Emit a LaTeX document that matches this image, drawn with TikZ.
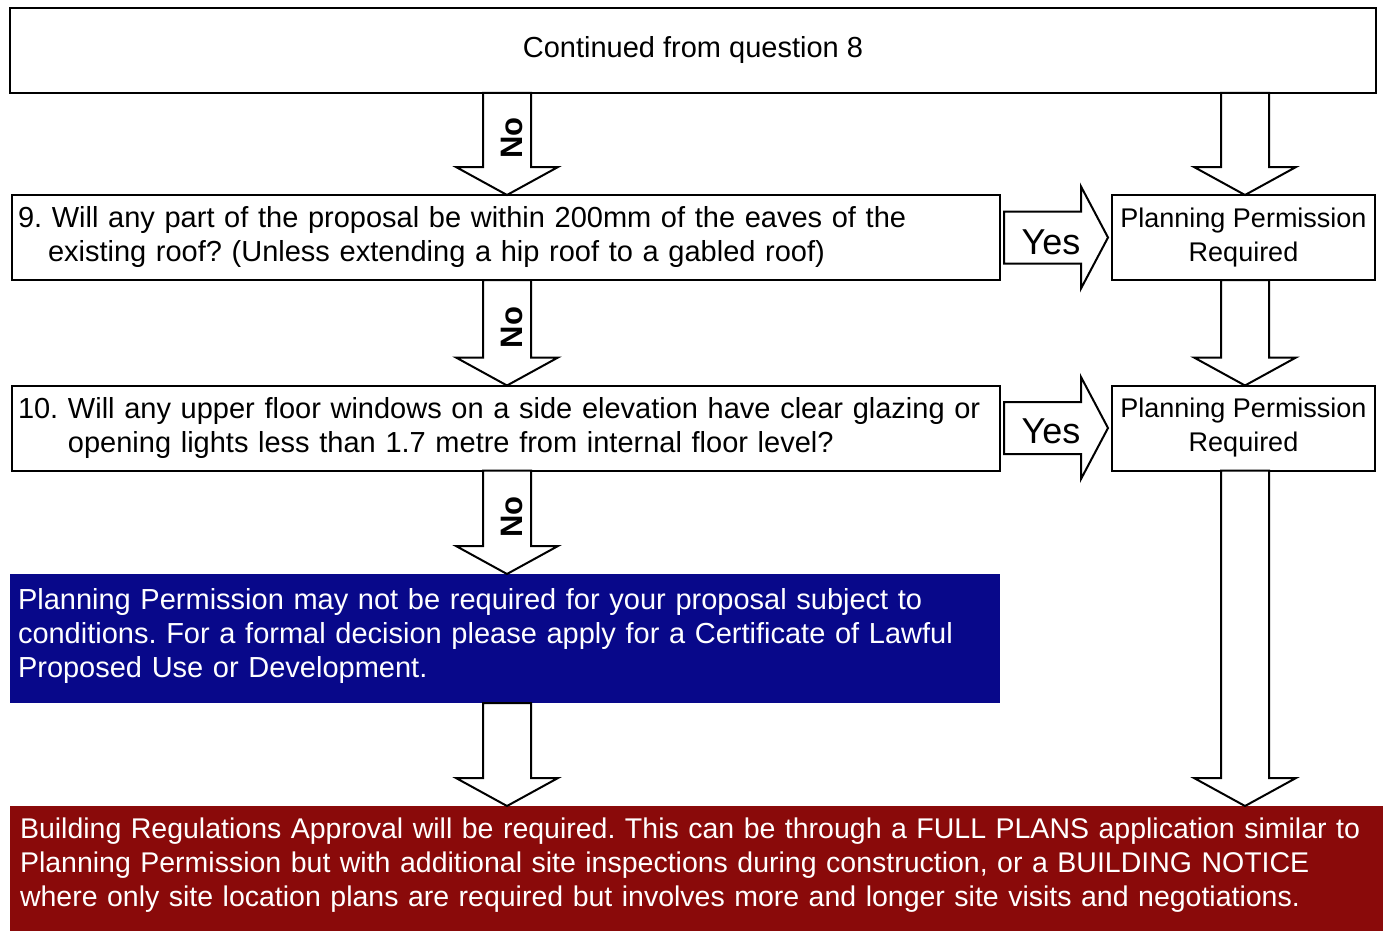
\documentclass[tikz,border=0pt]{standalone}
\usepackage{fontspec}
\setmainfont{Liberation Sans}
\usetikzlibrary{calc}
\frenchspacing

\definecolor{navybox}{RGB}{8,8,138}
\definecolor{maroonbox}{RGB}{138,10,10}

% fat block arrow pointing down, from node #1 to node #2 on column #3
\newcommand{\downblock}[3]{%
  \draw[blockarrow] ($(#1.south -| #3)+(-24,0)$) -- ($(#2.north -| #3)+(-24,-28)$)
    -- ($(#2.north -| #3)+(-51,-28)$) -- (#2.north -| #3)
    -- ($(#2.north -| #3)+(51,-28)$) -- ($(#2.north -| #3)+(24,-28)$)
    -- ($(#1.south -| #3)+(24,0)$) -- cycle;}
% fat block arrow pointing right, from node #1 to node #2
\newcommand{\yesblock}[2]{%
  \draw[blockarrow] ($(#1.east)+(4,-26)$) -- ($(#2.west)+(-31,-26)$)
    -- ($(#2.west)+(-31,-51)$) -- ($(#2.west)+(-4,0)$)
    -- ($(#2.west)+(-31,51)$) -- ($(#2.west)+(-31,26)$)
    -- ($(#1.east)+(4,26)$) -- cycle;}

\begin{document}
\begin{tikzpicture}[x=1pt, y=-1pt,
    every node/.style={font=\fontsize{29}{34}\selectfont},
    qbox/.style={draw, line width=2pt, outer sep=0pt, inner xsep=6pt, inner ysep=0pt, minimum height=85pt, align=left},
    ppbox/.style={draw, line width=2pt, outer sep=0pt, inner sep=0pt, minimum width=263pt, minimum height=85pt, align=center, font=\fontsize{27}{34}\selectfont},
    blockarrow/.style={draw, fill=white, line width=2pt, line join=miter},
    nolabel/.style={rotate=90, inner sep=0pt, font=\fontsize{31}{31}\selectfont\bfseries},
    yeslabel/.style={inner sep=0pt, font=\fontsize{36}{36}\selectfont}]
  \useasboundingbox (0,0) rectangle (1383,931);

  % columns of the down arrows
  \coordinate (colL) at (507,0);
  \coordinate (colR) at (1245,0);

  % === boxes ===
  \node[draw, line width=2pt, outer sep=0pt, minimum width=1366pt, minimum height=85pt] (top) at (693,50.5) {Continued from question 8};

  \node[qbox, text width=976pt] (q9) at (506,237.5)
    {9. Will any part of the proposal be within 200mm of the eaves of the\\
     \hspace*{30pt}existing roof? (Unless extending a hip roof to a gabled roof)};
  \node[ppbox] (pp9) at (1243.5,237.5) {Planning Permission\\Required};

  \node[qbox, text width=976pt] (q10) at (506,428)
    {10. Will any upper floor windows on a side elevation have clear glazing or\\
     \phantom{10. }opening lights less than 1.7 metre from internal floor level?};
  \node[ppbox] (pp10) at (1243.5,428) {Planning Permission\\Required};

  % 蓝色结论框
  \node[fill=navybox, text=white, outer sep=0pt, inner xsep=8pt, text width=974pt, minimum height=129pt, align=left] (notreq) at (505,638.5)
    {Planning Permission may not be required for your proposal subject to\\
     conditions. For a formal decision please apply for a Certificate of Lawful\\
     Proposed Use or Development.\vspace*{6pt}};

  % 红色建筑规范框
  \node[fill=maroonbox, text=white, outer sep=0pt, inner xsep=10pt, text width=1353pt, minimum height=125pt, align=left, font=\fontsize{28.5}{34}\selectfont] (bregs) at (696.5,868.5)
    {Building Regulations Approval will be required. This can be through a FULL PLANS application similar to\\
     Planning Permission but with additional site inspections during construction, or a BUILDING NOTICE\\
     where only site location plans are required but involves more and longer site visits and negotiations.\vspace*{6pt}};

  % === down arrows ===
  \downblock{top}{q9}{colL}
  \downblock{q9}{q10}{colL}
  \downblock{q10}{notreq}{colL}
  \downblock{notreq}{bregs}{colL}
  \downblock{top}{pp9}{colR}
  \downblock{pp9}{pp10}{colR}
  \downblock{pp10}{bregs}{colR}

  \node[nolabel] (no9) at ($(top.south -| colL)!0.44!(q9.north -| colL)+(5,0)$) {No};
  \node[nolabel] (no10) at ($(q9.south -| colL)!0.45!(q10.north -| colL)+(5,0)$) {No};
  \node[nolabel] (no11) at ($(q10.south -| colL)!0.45!(notreq.north -| colL)+(5,0)$) {No};

  % === yes arrows ===
  \yesblock{q9}{pp9}
  \yesblock{q10}{pp10}
  \node[yeslabel] (yes9) at ($(q9.east)!0.455!(pp9.west)+(0,5)$) {Yes};
  \node[yeslabel] (yes10) at ($(q10.east)!0.455!(pp10.west)+(0,3)$) {Yes};
\end{tikzpicture}
\end{document}
